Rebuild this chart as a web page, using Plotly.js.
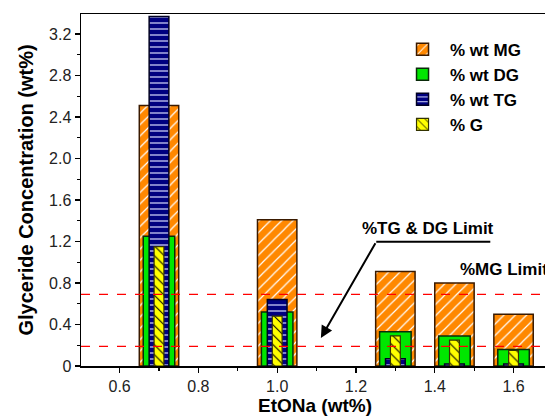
<!DOCTYPE html>
<html>
<head>
<meta charset="utf-8">
<script src="https://cdn.plot.ly/plotly-3.0.1.min.js"></script>
<style>
html, body { margin:0; padding:0; overflow:hidden; background:#fff; }
#chart { width:560px; height:417px; }
</style>
</head>
<body>
<div id="chart"></div>
<script>
// Data
const etona = [0.7, 1.0, 1.3, 1.45, 1.6];
const mg = [2.51, 1.41, 0.91, 0.80, 0.50];
const dg = [1.25, 0.52, 0.33, 0.29, 0.16];
const tg = [3.37, 0.64, 0.07, 0.02, 0.02];
const gly = [1.15, 0.48, 0.29, 0.25, 0.15];
const limitMG = 0.69;
const limitTGDG = 0.19;
const yTicks = [0, 0.4, 0.8, 1.2, 1.6, 2.0, 2.4, 2.8, 3.2];
const yTickText = ['0', '0.4', '0.8', '1.2', '1.6', '2.0', '2.4', '2.8', '3.2'];
const xTicks = [0.6, 0.8, 1.0, 1.2, 1.4, 1.6];
const xTickText = ['0.6', '0.8', '1.0', '1.2', '1.4', '1.6'];

const FONT = 'Liberation Sans, Arial, sans-serif';

const traces = [
  {
    type: 'bar', name: '% wt MG', x: etona, y: mg, width: 0.1,
    marker: {
      color: '#FF8800',
      line: {color: '#3a1a00', width: 1.5},
      pattern: {shape: '/', bgcolor: '#FF8800', fgcolor: '#ffffff', size: 8, solidity: 0.15, fillmode: 'replace'}
    }
  },
  {
    type: 'bar', name: '% wt DG', x: etona, y: dg, width: 0.08,
    marker: {color: '#00E600', line: {color: '#0a2a0a', width: 1.5}}
  },
  {
    type: 'bar', name: '% wt TG', x: etona, y: tg, width: 0.05,
    marker: {
      color: '#000080',
      line: {color: '#000022', width: 1.5},
      pattern: {shape: '-', bgcolor: '#000080', fgcolor: '#d8dcff', size: 6, solidity: 0.2, fillmode: 'replace'}
    }
  },
  {
    type: 'bar', name: '% G', x: etona, y: gly, width: 0.025,
    marker: {
      color: '#FFFF00',
      line: {color: '#333300', width: 1.2},
      pattern: {shape: '\\', bgcolor: '#FFFF00', fgcolor: '#000000', size: 7, solidity: 0.15, fillmode: 'replace'}
    }
  }
];

const layout = {
  width: 560, height: 417,
  margin: {l: 81, r: 11, t: 14, b: 51},
  paper_bgcolor: '#ffffff', plot_bgcolor: '#ffffff',
  barmode: 'overlay',
  showlegend: true,
  font: {family: FONT, color: '#000'},
  legend: {
    x: 0.671, y: 0.95, xanchor: 'left', yanchor: 'top',
    bgcolor: 'rgba(0,0,0,0)',
    font: {family: FONT, size: 17, color: '#000', weight: 'bold'},
    itemwidth: 45,
    traceorder: 'normal'
  },
  xaxis: {
    range: [0.502, 1.69],
    tickmode: 'array', tickvals: xTicks, ticktext: xTickText,
    ticks: 'outside', ticklen: 5, tickwidth: 1.2, tickcolor: '#000',
    minor: {tickmode: 'linear', tick0: 0.5, dtick: 0.1, ticks: 'outside', ticklen: 3, tickcolor: '#000'},
    showline: true, linecolor: '#000', linewidth: 1.5, mirror: true,
    showgrid: false, zeroline: false,
    tickfont: {family: FONT, size: 16, color: '#222'},
    title: {text: 'EtONa (wt%)', font: {family: FONT, size: 19, weight: 'bold', color: '#000'}, standoff: 4}
  },
  yaxis: {
    range: [0, 3.393],
    tickmode: 'array', tickvals: yTicks, ticktext: yTickText,
    ticks: 'outside', ticklen: 5, tickwidth: 1.2, tickcolor: '#000',
    minor: {tickmode: 'linear', tick0: 0, dtick: 0.2, ticks: 'outside', ticklen: 3, tickcolor: '#000'},
    showline: true, linecolor: '#000', linewidth: 1.5, mirror: true,
    showgrid: false, zeroline: false,
    tickfont: {family: FONT, size: 16, color: '#222'},
    title: {text: 'Glyceride Concentration (wt%)', font: {family: FONT, size: 20, weight: 'bold', color: '#000'}, standoff: 10}
  },
  shapes: [
    {type: 'line', xref: 'paper', x0: 0, x1: 1, yref: 'y', y0: limitMG, y1: limitMG,
     line: {color: '#ff0000', width: 1.2, dash: 'dash'}, layer: 'above'},
    {type: 'line', xref: 'paper', x0: 0, x1: 1, yref: 'y', y0: limitTGDG, y1: limitTGDG,
     line: {color: '#ff0000', width: 1.2, dash: 'dash'}, layer: 'above'},
    {type: 'line', xref: 'x', yref: 'y', x0: 1.2515, x1: 1.541, y0: 1.198, y1: 1.198,
     line: {color: '#000', width: 2}}
  ],
  annotations: [
    {x: 1.382, y: 1.33, xref: 'x', yref: 'y', text: '%TG & DG Limit', showarrow: false,
     font: {family: FONT, size: 17, weight: 'bold', color: '#000'}},
    {x: 1.458, y: 0.93, xref: 'x', yref: 'y', xanchor: 'left', text: '%MG Limit', showarrow: false,
     font: {family: FONT, size: 17, weight: 'bold', color: '#000'}},
    {x: 1.111, y: 0.27, xref: 'x', yref: 'y', ax: 1.2515, ay: 1.198, axref: 'x', ayref: 'y',
     text: '', showarrow: true, arrowhead: 2, arrowsize: 1.2, arrowwidth: 2, arrowcolor: '#000'}
  ]
};

Plotly.newPlot('chart', traces, layout, {displayModeBar: false, staticPlot: true});
</script>
</body>
</html>
